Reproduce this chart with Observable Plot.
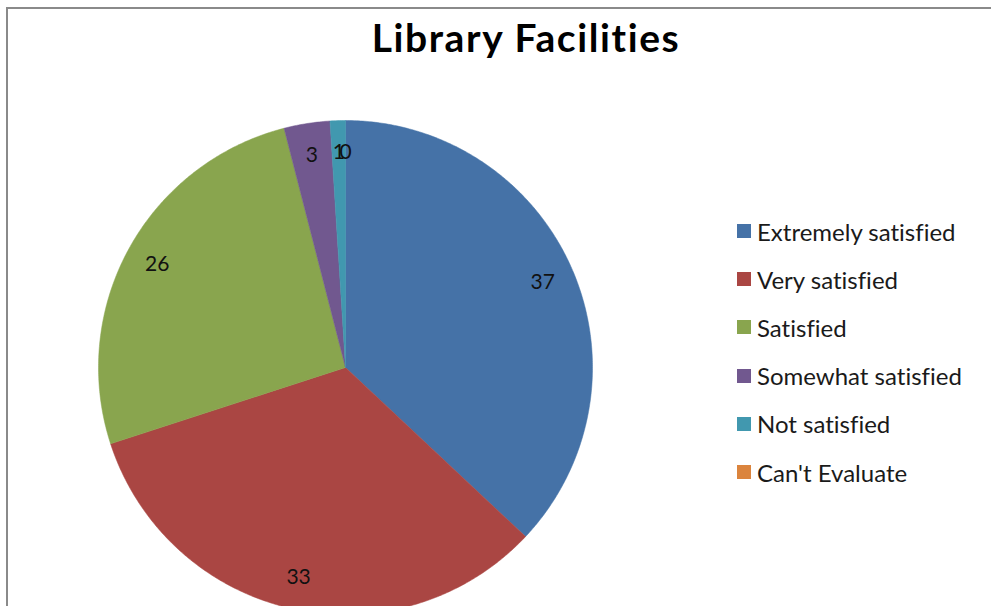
<!DOCTYPE html>
<html><head><meta charset="utf-8">
<script src="https://cdn.jsdelivr.net/npm/d3@7"></script>
<script src="https://cdn.jsdelivr.net/npm/@observablehq/plot@0.6"></script>
<style>
body{margin:0;background:#fff;overflow:hidden;}
#wrap{position:relative;width:991px;height:606px;overflow:hidden;font-family:Lato,"Open Sans",sans-serif;background:#fff;font-variant-ligatures:none;}
#chart{position:absolute;left:0;top:0;}
#frame{position:absolute;left:6px;top:7px;width:1100px;height:800px;border-left:2px solid #8a8a8a;border-top:2px solid #8a8a8a;pointer-events:none;}
#title{position:absolute;left:276px;width:500px;top:14px;text-align:center;font-weight:bold;font-size:39px;line-height:47px;letter-spacing:1.6px;color:#000;white-space:nowrap;}
#legend{position:absolute;left:737px;top:207px;}
.row{display:flex;align-items:center;height:48.2px;font-size:24px;color:#1a1a1a;white-space:nowrap;}
.sw{width:14px;height:14px;margin-right:6px;flex:none;}
</style>
</head><body>
<div id="wrap"><div id="chart"></div><div id="frame"></div><div id="title"></div><div id="legend"></div></div>
<script>
const title = "Library Facilities";
const categories = ["Extremely satisfied","Very satisfied","Satisfied","Somewhat satisfied","Not satisfied","Can't Evaluate"];
const values = [37, 33, 26, 3, 1, 0];
const colors = ["#4572A7","#AA4643","#89A54E","#71588F","#4198AF","#DB843D"];

const slices = d3.pie().sort(null).startAngle(0).endAngle(2*Math.PI)(values)
  .map((s, i) => ({cat: categories[i], value: values[i], a0: s.startAngle, a1: s.endAngle}));

// polygon outline of each slice in unit-circle coordinates
const outline = [];
for (const s of slices) {
  if (s.a1 - s.a0 <= 0) continue;
  outline.push({cat: s.cat, px: 0, py: 0});
  const n = Math.max(2, Math.ceil((s.a1 - s.a0) / (Math.PI / 360)));
  for (let k = 0; k <= n; k++) {
    const a = s.a0 + (s.a1 - s.a0) * k / n;
    outline.push({cat: s.cat, px: Math.sin(a), py: Math.cos(a)});
  }
  outline.push({cat: s.cat, px: 0, py: 0});
}
const labelR = 0.87;

const chart = Plot.plot({
  width: 991, height: 606,
  marginTop: 0, marginRight: 0, marginBottom: 0, marginLeft: 0,
  style: {background: "transparent", overflow: "visible"},
  x: {domain: [-1, 1], range: [98, 592], axis: null},
  y: {domain: [-1, 1], range: [614, 120], axis: null},
  color: {domain: categories, range: colors},
  marks: [
    Plot.line(outline, {x: "px", y: "py", z: "cat", fill: "cat", stroke: "cat", strokeWidth: 0.5, curve: "linear"}),
    Plot.text(slices, {
      x: d => labelR * Math.sin((d.a0 + d.a1) / 2),
      y: d => labelR * Math.cos((d.a0 + d.a1) / 2),
      text: d => String(d.value),
      fontSize: 21, fontFamily: "Lato, sans-serif", fill: "#111"
    })
  ]
});
document.getElementById("chart").appendChild(chart);
document.getElementById("title").textContent = title;

const leg = document.getElementById("legend");
categories.forEach((c, i) => {
  const row = document.createElement("div"); row.className = "row";
  const sw = document.createElement("div"); sw.className = "sw"; sw.style.background = chart.scale("color").apply(c);
  const t = document.createElement("span"); t.textContent = c;
  row.appendChild(sw); row.appendChild(t); leg.appendChild(row);
});
</script>
</body></html>
